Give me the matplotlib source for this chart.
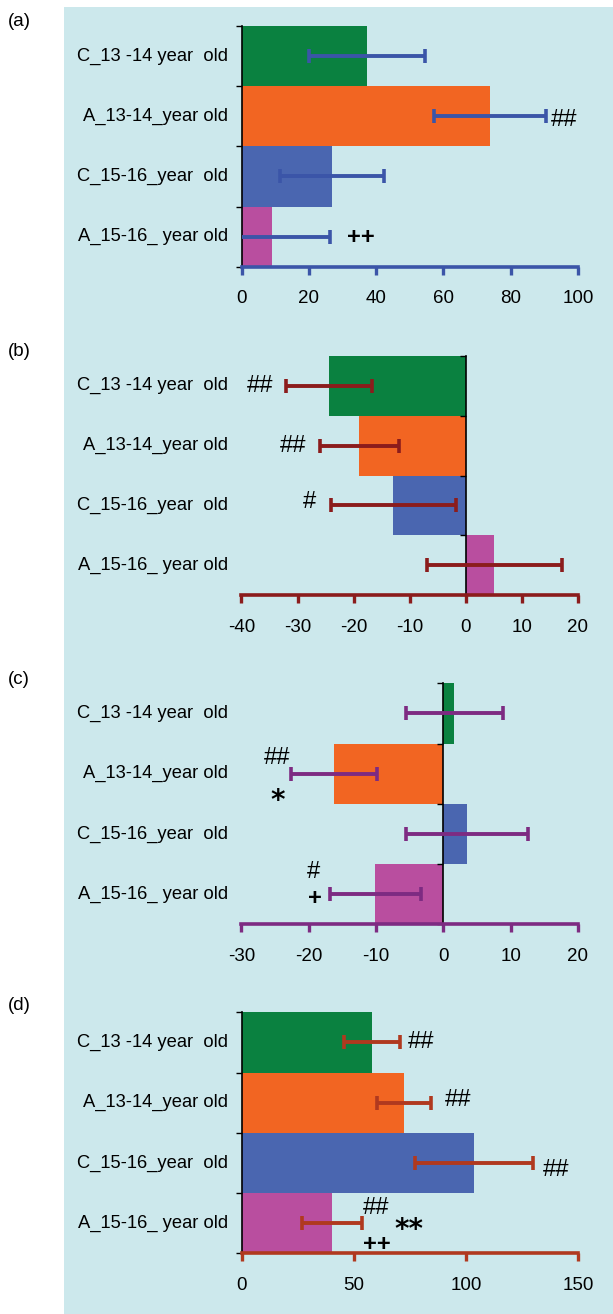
import numpy as np
import matplotlib
matplotlib.use('Agg')
import matplotlib.pyplot as plt
import matplotlib.transforms as mtransforms
from matplotlib.patches import Rectangle

plt.rcParams['font.family'] = ['Liberation Sans', 'DejaVu Sans']

# groups, top to bottom
groups = ['C_13 -14 year  old', 'A_13-14_year old', 'C_15-16_year  old', 'A_15-16_ year old']
bar_colors = ['#0a8140', '#f26522', '#4a66b0', '#b94e9f']

# panel (a)
mean_a = [37.4, 73.8, 26.8, 9.1]
err_a = [17.2, 16.7, 15.5, 17.2]
ticks_a = [0, 20, 40, 60, 80, 100]
marks_a = [(95.9, 1.07, '##'), (35.5, 3.01, '++')]

# panel (b)
mean_b = [-24.4, -19.0, -12.9, 5.1]
err_b = [7.7, 7.0, 11.1, 12.1]
ticks_b = [-40, -30, -20, -10, 0, 10, 20]
marks_b = [(-36.7, 0.0, '##'), (-30.8, 1.0, '##'), (-27.8, 1.95, '#')]

# panel (c)
mean_c = [1.6, -16.2, 3.5, -10.1]
err_c = [7.2, 6.4, 9.0, 6.8]
ticks_c = [-30, -20, -10, 0, 10, 20]
marks_c = [(-24.7, 0.74, '##'), (-24.6, 1.46, '*'), (-19.3, 2.64, '#'), (-19.1, 3.07, '+')]

# panel (d)
mean_d = [58.3, 72.5, 103.8, 40.3]
err_d = [12.5, 12.1, 26.3, 13.5]
ticks_d = [0, 50, 100, 150]
marks_d = [(80.2, 0.0, '##'), (96.6, 0.95, '##'), (140.4, 2.12, '##'),
           (59.9, 2.74, '##'), (74.7, 3.12, '**'), (60.2, 3.36, '++')]

fig = plt.figure(figsize=(6.13, 13.14), dpi=100)
W, H = 613.0, 1314.0

# light blue backdrop behind all four panels
fig.patches.append(Rectangle((64 / W, 0), 1 - 64 / W, 1 - 7 / H, transform=fig.transFigure,
                             facecolor='#cce8ec', edgecolor='none', zorder=-5))


def draw_panel(top_px, bot_px, tag, tag_px, means, errs, ecol, ticks, marks):
    left, right = 241.5 / W, 578.0 / W
    ax = fig.add_axes([left, 1 - bot_px / H, right - left, (bot_px - top_px) / H])
    ax.set_facecolor('none')
    y = np.arange(len(groups))
    ax.barh(y, means, height=1.0, color=bar_colors, zorder=1)
    ax.errorbar(means, y, xerr=errs, fmt='none', ecolor=ecol, elinewidth=2.8,
                capsize=5, capthick=2.6, zorder=3)
    ax.set_xlim(ticks[0], ticks[-1])
    ax.set_ylim(3.5, -0.5)

    for s in ['top', 'right']:
        ax.spines[s].set_visible(False)
    ax.spines['left'].set_position(('data', 0))
    ax.spines['left'].set_color('black')
    ax.spines['left'].set_linewidth(1.2)
    ax.spines['bottom'].set_color(ecol)
    ax.spines['bottom'].set_linewidth(2.6)
    ax.spines['bottom'].set_zorder(4)

    ax.set_yticks([-0.5, 0.5, 1.5, 2.5, 3.5])
    ax.set_yticklabels([])
    ax.tick_params(axis='y', length=4, width=1, color='black', direction='out')
    ax.set_xticks(ticks)
    ax.set_xticklabels([str(t) for t in ticks])
    ax.tick_params(axis='x', length=6, width=2.4, color=ecol, labelsize=13.5, pad=11)

    # group names sit left of the plot regardless of where the zero line is
    trans = mtransforms.blended_transform_factory(ax.transAxes, ax.transData)
    for i, g in enumerate(groups):
        ax.text(-0.04, i, g, transform=trans, ha='right', va='center', fontsize=13.2)

    for x, yy, s in marks:
        if '*' in s:
            ax.text(x, yy, s, ha='center', va='center', fontsize=20, fontweight='bold',
                    family='DejaVu Sans', zorder=5)
        elif '+' in s:
            ax.text(x, yy, s, ha='center', va='center', fontsize=17, fontweight='bold', zorder=5)
        else:
            ax.text(x, yy, s, ha='center', va='center', fontsize=17, zorder=5)

    fig.text(8 / W, 1 - tag_px / H, tag, ha='left', va='center', fontsize=13.5)
    return ax


draw_panel(26.0, 266.7, '(a)', 22, mean_a, err_a, '#3b55a8', ticks_a, marks_a)
draw_panel(356.0, 595.0, '(b)', 352, mean_b, err_b, '#8b1c1c', ticks_b, marks_b)
draw_panel(683.3, 924.3, '(c)', 679, mean_c, err_c, '#7d2b82', ticks_c, marks_c)
draw_panel(1012.3, 1253.3, '(d)', 1005, mean_d, err_d, '#b0391f', ticks_d, marks_d)

fig.savefig('out.png', dpi=100)
